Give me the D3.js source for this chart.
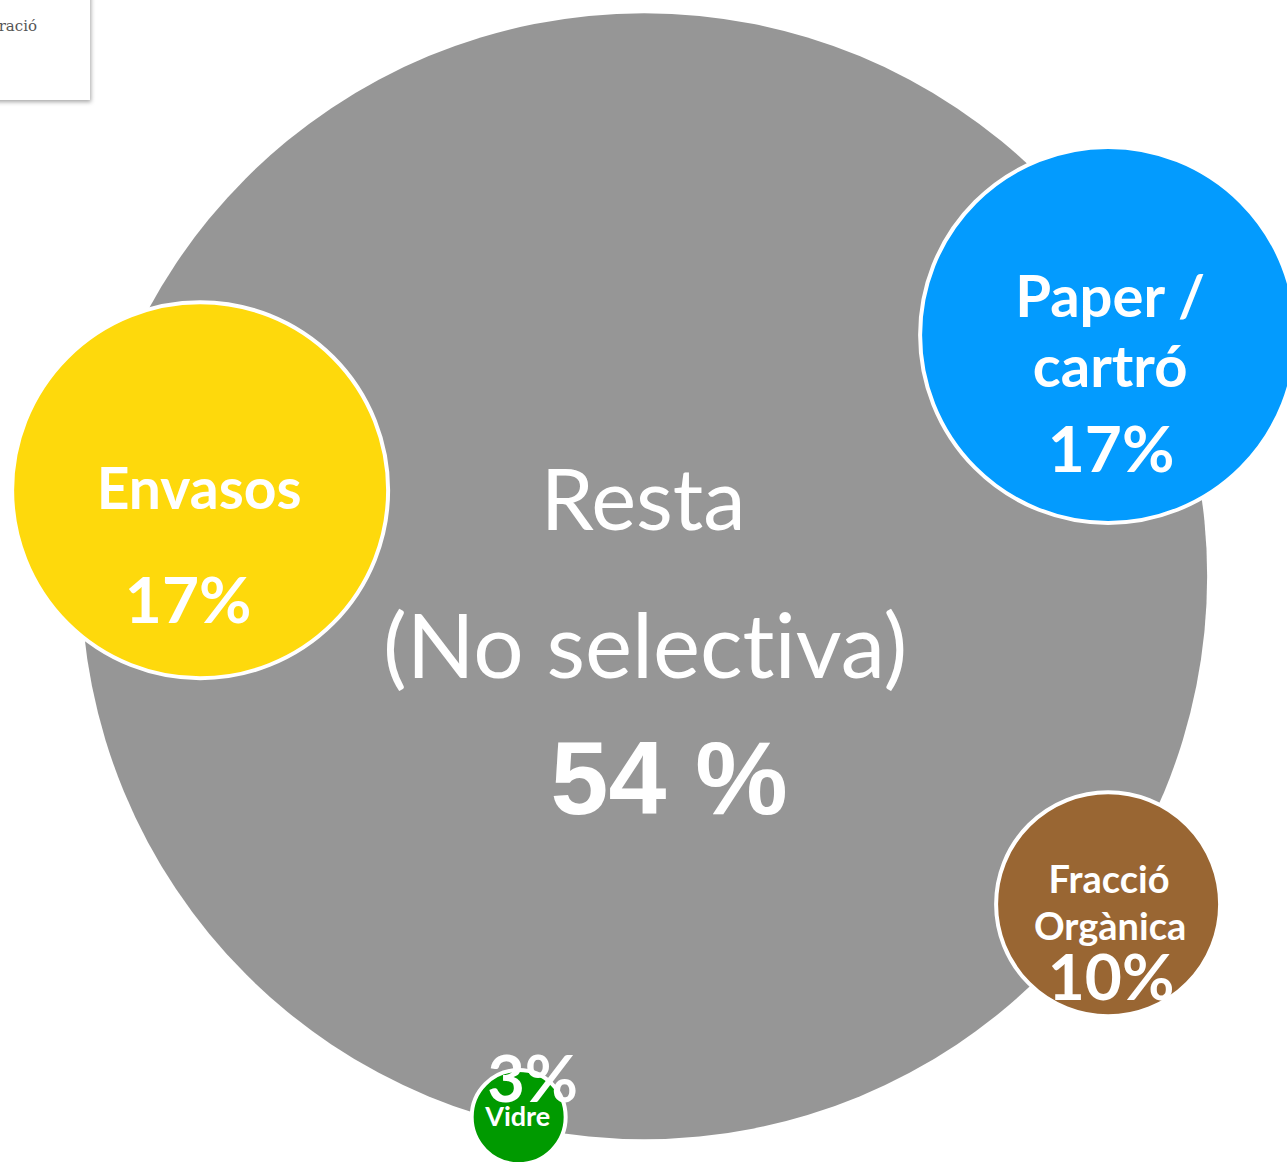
<!DOCTYPE html>
<html><head><meta charset="utf-8">
<script src="https://cdn.jsdelivr.net/npm/d3@7"></script>
<style>
html,body{margin:0;padding:0;background:#fff;overflow:hidden;}
svg{display:block;}
text{font-variant-ligatures:none;font-feature-settings:"liga" 0,"clig" 0;}
</style></head>
<body>
<script>
// ---- data ----
const categories = ["Resta", "Envasos", "Paper / cartró", "Fracció Orgànica", "Vidre"];
const values = [54, 17, 17, 10, 3];
const pctLabels = ["54 %", "17%", "17%", "10%", "3%"];
const nameLines = [["Resta", "(No selectiva)"], ["Envasos"], ["Paper /", "cartró"], ["Fracció", "Orgànica"], ["Vidre"]];
const colors = ["#969696", "#FED90C", "#039BFE", "#996633", "#009A00"];

// ---- layout (positions in a 0..100 layout space) ----
const W = 1287, H = 1163;
const layoutX = [50.05, 15.55, 86.1, 86.1, 40.3];
const layoutY = [49.55, 42.15, 28.8, 77.75, 96.05];

const svg = d3.select("body").append("svg").attr("width", W).attr("height", H);
const x = d3.scaleLinear().domain([0, 100]).range([0, W]);
const y = d3.scaleLinear().domain([0, 100]).range([0, H]);
const r = d3.scaleLinear().domain([3, 10, 17, 54]).range([47, 112, 188, 563]);

const data = categories.map((c, i) => ({
  name: c, value: values[i], pct: pctLabels[i], lines: nameLines[i], color: colors[i],
  cx: x(layoutX[i]), cy: y(layoutY[i])
}));

const defs = svg.append("defs");
const f = defs.append("filter").attr("id", "sh").attr("x", "-20%").attr("y", "-20%").attr("width", "150%").attr("height", "150%");
f.append("feDropShadow").attr("dx", 1).attr("dy", 2).attr("stdDeviation", 2).attr("flood-color", "#000").attr("flood-opacity", 0.35);

// circles
svg.selectAll("circle.b").data(data).join("circle")
  .attr("class", "b")
  .attr("cx", d => d.cx).attr("cy", d => d.cy).attr("r", d => r(d.value))
  .attr("fill", d => d.color)
  .attr("stroke", (d, i) => i === 0 ? "none" : "#fff")
  .attr("stroke-width", 4);

const g = svg.append("g").attr("fill", "#fff");
function t(xp, yp, txt, size, weight, fam) {
  return g.append("text").attr("x", xp).attr("y", yp).attr("text-anchor", "middle")
    .style("font-family", fam || "Lato").style("font-size", size + "px").style("font-weight", weight).text(txt);
}

// Resta
const d0 = data[0];
t(d0.cx - 1, 530, d0.lines[0], 85, 400);
t(d0.cx + 1, 678, d0.lines[1], 89, 400);
t(d0.cx + 25, 814, d0.pct, 104, 700, "'Liberation Sans', Arial");

// Envasos
const d1 = data[1];
t(d1.cx - 1, 509, d1.lines[0], 57, 700);
t(d1.cx - 12, 623, d1.pct, 64, 700);

// Paper / cartró
const d2 = data[2];
t(d2.cx + 2, 317, d2.lines[0], 58, 700);
t(d2.cx + 2, 387, d2.lines[1], 58, 700);
t(d2.cx + 3, 472, d2.pct, 64, 700);

// Fracció Orgànica
const d3_ = data[3];
t(d3_.cx + 1, 893, d3_.lines[0], 38, 700);
t(d3_.cx + 2, 940, d3_.lines[1], 38, 700);
t(d3_.cx + 3, 1000, d3_.pct, 64, 700);

// Vidre
const d4 = data[4];
t(d4.cx - 1, 1126, d4.lines[0], 27, 700);
t(d4.cx + 14, 1102, d4.pct, 65, 700);

// top-left box fragment
svg.append("rect").attr("x", -20).attr("y", -10).attr("width", 110).attr("height", 110)
  .attr("fill", "#fff").attr("filter", "url(#sh)");
svg.append("text").attr("x", 37).attr("y", 31).attr("text-anchor", "end")
  .style("font-family", "'DejaVu Serif', serif").style("font-size", "15px").attr("fill", "#555").text("ració");
</script>
</body></html>
